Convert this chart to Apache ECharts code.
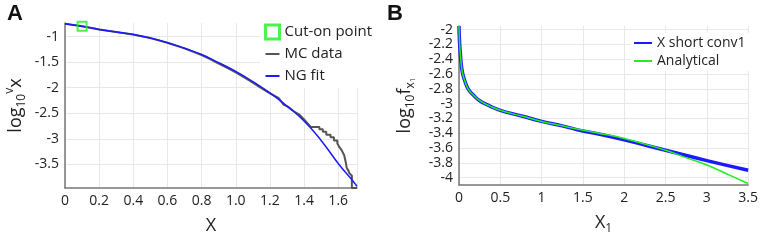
<!DOCTYPE html>
<html>
<head>
<meta charset="utf-8">
<script src="https://cdn.jsdelivr.net/npm/echarts@6/dist/echarts.min.js"></script>
<style>
  html, body { margin: 0; padding: 0; background: #fff; }
  #chart { width: 761px; height: 240px; }
</style>
</head>
<body>
<div id="chart"></div>
<script>
// panel A: 截止点、MC数据与NG拟合
var cutOnPoint = [[0.1, -0.8]];
var mcData = [
  [0, -0.75], [0.1, -0.8], [0.2, -0.86], [0.3, -0.91], [0.4, -0.96], [0.5, -1.03],
  [0.6, -1.12], [0.7, -1.23], [0.8, -1.36], [0.85, -1.44], [0.9, -1.53], [0.95, -1.61],
  [1.0, -1.7], [1.05, -1.8], [1.1, -1.9], [1.15, -2.01], [1.2, -2.11], [1.25, -2.2],
  [1.28, -2.33], [1.31, -2.38], [1.34, -2.46], [1.37, -2.52], [1.4, -2.62], [1.43, -2.73],
  [1.44, -2.77], [1.49, -2.77], [1.49, -2.81], [1.51, -2.81], [1.51, -2.86], [1.53, -2.86],
  [1.53, -2.92], [1.555, -2.92], [1.555, -2.97], [1.575, -2.97], [1.575, -3.03],
  [1.595, -3.03], [1.595, -3.09], [1.605, -3.09], [1.605, -3.15], [1.615, -3.15],
  [1.62, -3.22], [1.63, -3.24], [1.635, -3.32], [1.64, -3.33], [1.645, -3.47],
  [1.65, -3.57], [1.66, -3.62], [1.665, -3.67], [1.68, -3.72], [1.68, -3.96], [1.71, -3.96]
];
var ngFit = [
  [0, -0.75], [0.1, -0.8], [0.2, -0.86], [0.3, -0.91], [0.4, -0.96], [0.5, -1.03],
  [0.6, -1.12], [0.7, -1.23], [0.8, -1.35], [0.9, -1.51], [1.0, -1.68], [1.1, -1.88],
  [1.2, -2.1], [1.3, -2.36], [1.4, -2.65], [1.5, -3.03], [1.6, -3.48], [1.7, -3.88], [1.71, -3.93]
];
var ticksAY = [-3.5, -3, -2.5, -2, -1.5, -1];

// panel B
var shortConv = [
  [0, -1.95], [0.005, -2.13], [0.02, -2.38], [0.04, -2.57], [0.07, -2.69], [0.11, -2.8],
  [0.17, -2.88], [0.25, -2.96], [0.37, -3.03], [0.5, -3.09], [0.77, -3.17], [1.0, -3.24],
  [1.25, -3.3], [1.5, -3.37], [1.69, -3.41], [2.0, -3.49], [2.5, -3.63], [3.0, -3.77], [3.5, -3.9]
];
var analytical = [
  [0, -1.95], [0.005, -2.13], [0.02, -2.38], [0.04, -2.57], [0.07, -2.69], [0.11, -2.8],
  [0.17, -2.88], [0.25, -2.96], [0.37, -3.03], [0.5, -3.09], [0.77, -3.17], [1.0, -3.24],
  [1.25, -3.3], [1.5, -3.36], [1.69, -3.4], [2.0, -3.47], [2.5, -3.63], [2.72, -3.72],
  [3.0, -3.83], [3.28, -3.97], [3.5, -4.08]
];
var ticksBY = [-4, -3.8, -3.6, -3.4, -3.2, -3, -2.8, -2.6, -2.4, -2.2, -2];

var font = 'Open Sans';
var axisColor = '#777';
var gridColor = '#e8e8e8';
var labelColor = '#222';

function makeAxis(gridIndex, min, max, interval, ticks, fmt, extra) {
  var ax = {
    type: 'value',
    gridIndex: gridIndex,
    min: min,
    max: max,
    axisLine: { show: true, onZero: false, lineStyle: { color: axisColor, width: 1.5 } },
    axisTick: { show: false },
    splitLine: { show: !ticks, lineStyle: { color: gridColor, width: 1 } },
    axisLabel: {
      color: labelColor,
      fontFamily: font,
      fontSize: 14,
      margin: 6,
      formatter: fmt
    }
  };
  if (interval) ax.interval = interval;
  if (ticks) ax.axisLabel.customValues = ticks;
  for (var k in extra) ax[k] = extra[k];
  return ax;
}

// y 方向网格线用 markLine 画
function gridLines(xi, yi, ticks) {
  return {
    name: 'grid' + xi, type: 'line', xAxisIndex: xi, yAxisIndex: yi,
    data: [], z: 0, silent: true,
    markLine: {
      silent: true, symbol: ['none', 'none'], animation: false, z: 0,
      label: { show: false },
      lineStyle: { color: gridColor, width: 1, type: 'solid' },
      emphasis: { disabled: true },
      data: ticks.map(function (v) { return { yAxis: v }; })
    }
  };
}

var nameRich = {
  m: { fontSize: 18, fontFamily: font, color: labelColor, lineHeight: 24 },
  s: { fontSize: 12, fontFamily: font, color: labelColor, verticalAlign: 'bottom', lineHeight: 12 },
  ss: { fontSize: 8, fontFamily: font, color: labelColor, verticalAlign: 'bottom', lineHeight: 8 },
  p: { fontSize: 12, fontFamily: font, color: labelColor, verticalAlign: 'top', lineHeight: 12 }
};

var option = {
  animation: false,
  backgroundColor: '#fff',
  title: [
    { text: 'A', left: 2, top: -2, textStyle: { fontSize: 22, fontWeight: 'bold', fontFamily: 'Liberation Sans', color: '#111' } },
    { text: 'B', left: 382, top: -2, textStyle: { fontSize: 22, fontWeight: 'bold', fontFamily: 'Liberation Sans', color: '#111' } }
  ],
  grid: [
    { left: 65, top: 23, width: 292, height: 176 },
    { left: 459, top: 26, width: 292.5, height: 171 }
  ],
  legend: [
    {
      left: 260, top: 20, orient: 'vertical', itemWidth: 14, itemHeight: 14, itemGap: 4, z: 1,
      backgroundColor: '#fff', padding: [3, 4, 3, 4],
      data: [
        { name: 'Cut-on point', itemStyle: { borderWidth: 3 } },
        { name: 'MC data', itemStyle: { opacity: 0 } },
        { name: 'NG fit', itemStyle: { opacity: 0 } }
      ],
      textStyle: { fontFamily: font, fontSize: 15, color: labelColor, lineHeight: 18 }
    },
    {
      left: 630, top: 33, orient: 'vertical', itemWidth: 18, itemHeight: 12, itemGap: 2, z: 1,
      backgroundColor: '#fff', padding: [2, 4, 2, 3],
      data: [
        { name: 'X short conv1', itemStyle: { opacity: 0 } },
        { name: 'Analytical', itemStyle: { opacity: 0 } }
      ],
      textStyle: { fontFamily: font, fontSize: 14, color: labelColor, lineHeight: 16 }
    }
  ],
  xAxis: [
    makeAxis(0, 0, 1.71, 0.2, null, function (v) { return v === 0 ? '0' : v.toFixed(1); }, {
      name: '{m|X}', nameLocation: 'middle', nameGap: 26,
      nameTextStyle: { rich: nameRich }
    }),
    makeAxis(1, 0, 3.5, 0.5, null, function (v) { return String(v); }, {
      name: '{m|X}{s|1}', nameLocation: 'middle', nameGap: 26,
      nameTextStyle: { rich: nameRich }
    })
  ],
  yAxis: [
    makeAxis(0, -3.96, -0.735, null, ticksAY, function (v) { return String(v); }, {
      name: '{m|log}{s|10}{p|v}{m|x}', nameLocation: 'middle', nameGap: 37, nameRotate: 90,
      nameTextStyle: { rich: nameRich }
    }),
    makeAxis(1, -4.1, -1.95, null, ticksBY, function (v) { return String(v); }, {
      name: '{m|log}{s|10}{m|f}{s|x}{ss|1}', nameLocation: 'middle', nameGap: 42, nameRotate: 90,
      nameTextStyle: { rich: nameRich }
    })
  ],
  series: [
    gridLines(0, 0, ticksAY),
    gridLines(1, 1, ticksBY),
    {
      name: 'MC data', type: 'line', xAxisIndex: 0, yAxisIndex: 0,
      data: mcData, symbol: 'none', z: 2,
      lineStyle: { color: '#555', width: 2 },
      itemStyle: { color: '#555' }
    },
    {
      name: 'NG fit', type: 'line', xAxisIndex: 0, yAxisIndex: 0,
      data: ngFit, symbol: 'none', smooth: true, z: 3,
      lineStyle: { color: '#1a1aff', width: 1.5 },
      itemStyle: { color: '#1a1aff' }
    },
    {
      name: 'Cut-on point', type: 'scatter', xAxisIndex: 0, yAxisIndex: 0,
      data: cutOnPoint, symbol: 'rect', symbolSize: 9, z: 4,
      itemStyle: { color: 'rgba(255,255,255,0)', borderColor: '#22ee22', borderWidth: 2 }
    },
    {
      name: 'X short conv1', type: 'line', xAxisIndex: 1, yAxisIndex: 1,
      data: shortConv, symbol: 'none', smooth: true, z: 2,
      lineStyle: { color: '#1a1aff', width: 3.5 },
      itemStyle: { color: '#1a1aff' }
    },
    {
      name: 'Analytical', type: 'line', xAxisIndex: 1, yAxisIndex: 1,
      data: analytical, symbol: 'none', smooth: true, z: 3,
      lineStyle: { color: '#22ee22', width: 1.5 },
      itemStyle: { color: '#22ee22' }
    }
  ]
};

var chart = echarts.init(document.getElementById('chart'));
chart.setOption(option);
</script>
</body>
</html>
